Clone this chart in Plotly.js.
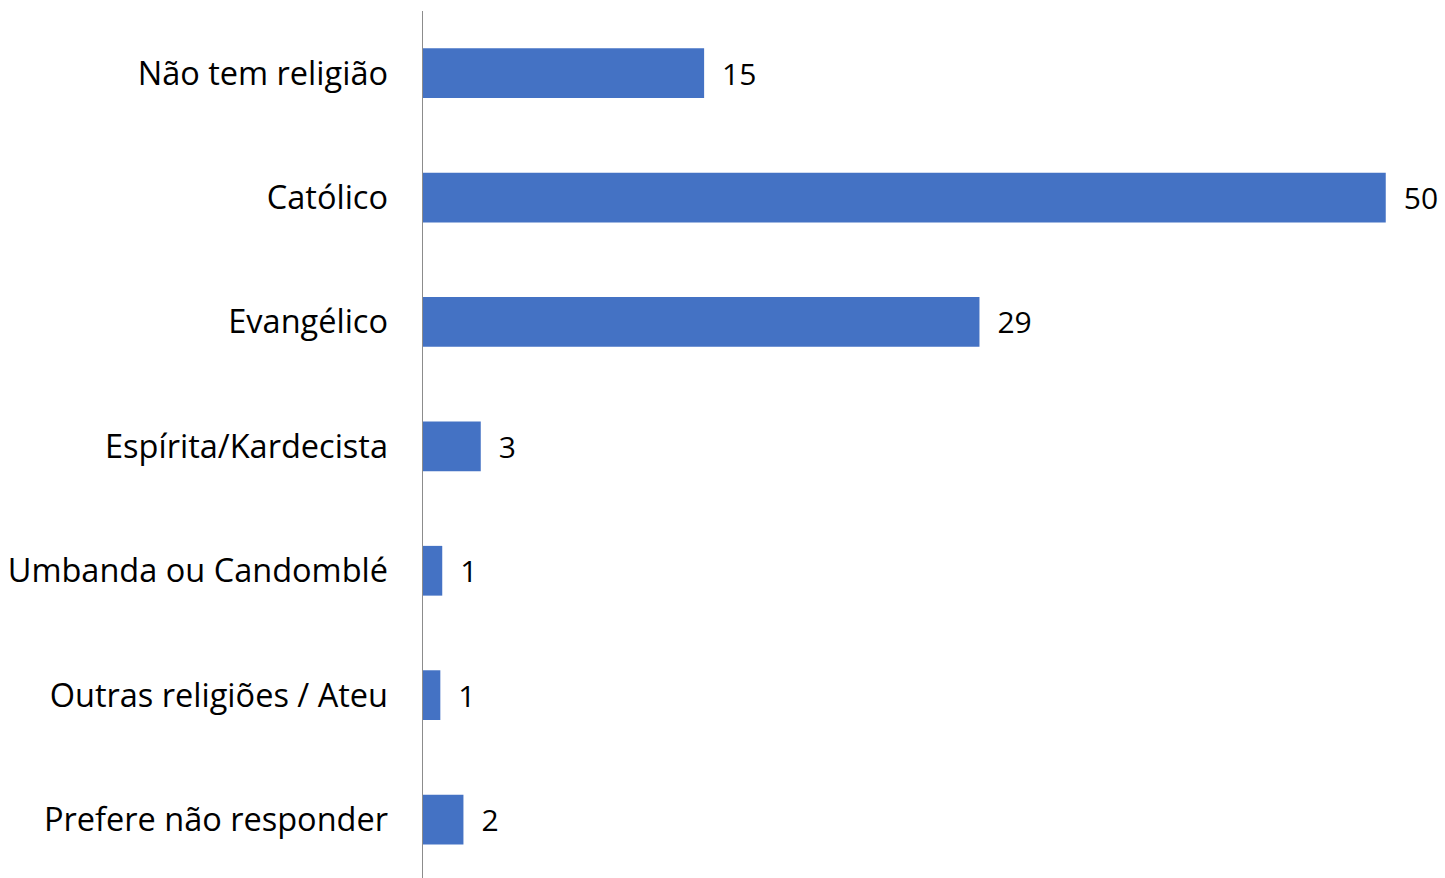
<!DOCTYPE html>
<html>
<head>
<meta charset="utf-8">
<script src="https://cdn.plot.ly/plotly-3.0.1.min.js"></script>
<style>html,body{margin:0;padding:0;background:#fff;}#chart{width:1445px;height:878px;}</style>
</head>
<body>
<div id="chart"></div>
<script>
const categories = ["Não tem religião", "Católico", "Evangélico", "Espírita/Kardecista", "Umbanda ou Candomblé", "Outras religiões / Ateu", "Prefere não responder"];
const values = [14.6, 50, 28.9, 3.0, 1.0, 0.9, 2.1];
const valueLabels = ["15", "50", "29", "3", "1", "1", "2"];

const FONT = "'Open Sans', Carlito, Lato, sans-serif";

const trace = {
  type: "bar",
  orientation: "h",
  y: categories,
  x: values,
  text: valueLabels.map(function (s) { return "\u2002" + s; }),
  textposition: "outside",
  cliponaxis: false,
  textfont: {family: FONT, size: 30, color: "#000"},
  marker: {color: "#4472C4", line: {width: 0}},
  hoverinfo: "none"
};

const layout = {
  width: 1445,
  height: 878,
  margin: {l: 423, r: 40, t: 11, b: 0},
  paper_bgcolor: "#fff",
  plot_bgcolor: "#fff",
  bargap: 0.6,
  showlegend: false,
  font: {family: FONT, size: 30, color: "#000"},
  xaxis: {range: [0, 51], visible: false, fixedrange: true},
  yaxis: {
    range: [6.47, -0.5],
    showline: true,
    linecolor: "#8c8c8c",
    linewidth: 1.5,
    showgrid: false,
    zeroline: false,
    ticks: "",
    ticklen: 0,
    ticklabelstandoff: 27,
    tickfont: {family: FONT, size: 32.5, color: "#000"},
    automargin: false
  }
};

Plotly.newPlot("chart", [trace], layout, {displayModeBar: false, staticPlot: true});
</script>
</body>
</html>
